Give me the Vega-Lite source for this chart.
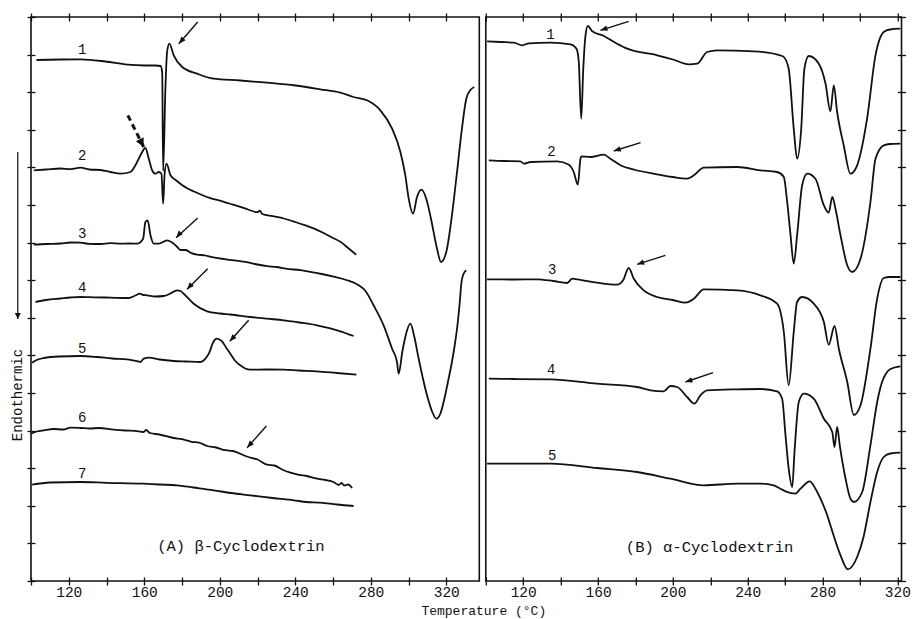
{
"$schema": "https://vega.github.io/schema/vega-lite/v6.json",
"background": "white",
"padding": {"left": 9, "top": 11, "right": 5, "bottom": 5},
"autosize": {"type": "pad"},
"spacing": 5.8,
"bounds": "flush",
"datasets": {
"c": [
{"p":"A","c":1,"T":102.9,"v":521},{"p":"A","c":1,"T":115.6,"v":521.5},{"p":"A","c":1,"T":126.2,"v":521.7},{"p":"A","c":1,"T":139.4,"v":519.5},{"p":"A","c":1,"T":151.1,"v":516.3},{"p":"A","c":1,"T":160.6,"v":515.5},{"p":"A","c":1,"T":165.9,"v":515.5},{"p":"A","c":1,"T":168.6,"v":515},{"p":"A","c":1,"T":169.5,"v":509},{"p":"A","c":1,"T":170.0,"v":410},{"p":"A","c":1,"T":171.2,"v":492.3},{"p":"A","c":1,"T":172.1,"v":529},{"p":"A","c":1,"T":173.3,"v":537.3},{"p":"A","c":1,"T":175.6,"v":525.7},{"p":"A","c":1,"T":180.1,"v":514},{"p":"A","c":1,"T":188,"v":507.3},{"p":"A","c":1,"T":196.6,"v":502.3},{"p":"A","c":1,"T":210.9,"v":500.5},{"p":"A","c":1,"T":225.1,"v":498.3},{"p":"A","c":1,"T":240.1,"v":495.5},{"p":"A","c":1,"T":253.3,"v":491.7},{"p":"A","c":1,"T":263.9,"v":488.3},{"p":"A","c":1,"T":270.8,"v":484},{"p":"A","c":1,"T":278,"v":480.7},{"p":"A","c":1,"T":285.1,"v":470.7},{"p":"A","c":1,"T":291.3,"v":452.3},{"p":"A","c":1,"T":295.7,"v":429},{"p":"A","c":1,"T":298.3,"v":405.7},{"p":"A","c":1,"T":300.1,"v":382.3},{"p":"A","c":1,"T":302.4,"v":367.3},{"p":"A","c":1,"T":304.5,"v":384},{"p":"A","c":1,"T":306.8,"v":391.3},{"p":"A","c":1,"T":309.4,"v":382.3},{"p":"A","c":1,"T":311.9,"v":362.3},{"p":"A","c":1,"T":315.1,"v":332.3},{"p":"A","c":1,"T":317.2,"v":319},{"p":"A","c":1,"T":320,"v":329},{"p":"A","c":1,"T":323,"v":365.7},{"p":"A","c":1,"T":325.7,"v":409},{"p":"A","c":1,"T":328.3,"v":452.3},{"p":"A","c":1,"T":330.6,"v":482.3},{"p":"A","c":1,"T":332.7,"v":490.7},{"p":"A","c":1,"T":334.8,"v":494},
{"p":"A","c":2,"T":101.5,"v":410.7},{"p":"A","c":2,"T":108,"v":411.5},{"p":"A","c":2,"T":115.6,"v":412.5},{"p":"A","c":2,"T":121,"v":411.8},{"p":"A","c":2,"T":126.2,"v":413.3},{"p":"A","c":2,"T":131,"v":411.5},{"p":"A","c":2,"T":136.8,"v":411},{"p":"A","c":2,"T":142.1,"v":409},{"p":"A","c":2,"T":147.4,"v":407.3},{"p":"A","c":2,"T":152.7,"v":409},{"p":"A","c":2,"T":155.3,"v":415.7},{"p":"A","c":2,"T":158,"v":425.7},{"p":"A","c":2,"T":160.6,"v":433},{"p":"A","c":2,"T":162.4,"v":422.3},{"p":"A","c":2,"T":164.2,"v":410.7},{"p":"A","c":2,"T":165.9,"v":407.3},{"p":"A","c":2,"T":167.7,"v":409},{"p":"A","c":2,"T":169.1,"v":407.3},{"p":"A","c":2,"T":170,"v":377.3},{"p":"A","c":2,"T":170.8,"v":407.3},{"p":"A","c":2,"T":171.8,"v":417.3},{"p":"A","c":2,"T":173.9,"v":405.7},{"p":"A","c":2,"T":177,"v":400.5},{"p":"A","c":2,"T":180,"v":396},{"p":"A","c":2,"T":182.7,"v":392.8},{"p":"A","c":2,"T":186,"v":389.8},{"p":"A","c":2,"T":190,"v":386.5},{"p":"A","c":2,"T":195,"v":382.8},{"p":"A","c":2,"T":200,"v":380.3},{"p":"A","c":2,"T":205,"v":377.5},{"p":"A","c":2,"T":210.9,"v":374.2},{"p":"A","c":2,"T":215,"v":371.5},{"p":"A","c":2,"T":219.8,"v":368.8},{"p":"A","c":2,"T":221.3,"v":370.3},{"p":"A","c":2,"T":222.5,"v":367},{"p":"A","c":2,"T":228,"v":364.8},{"p":"A","c":2,"T":233.9,"v":362.5},{"p":"A","c":2,"T":240,"v":359},{"p":"A","c":2,"T":245,"v":355.8},{"p":"A","c":2,"T":249.7,"v":352.6},{"p":"A","c":2,"T":255,"v":348},{"p":"A","c":2,"T":260,"v":343},{"p":"A","c":2,"T":263.9,"v":339.2},{"p":"A","c":2,"T":268,"v":333},{"p":"A","c":2,"T":272.3,"v":326.3},
{"p":"A","c":3,"T":101.5,"v":336.3},{"p":"A","c":3,"T":108,"v":337},{"p":"A","c":3,"T":115.6,"v":337.5},{"p":"A","c":3,"T":121,"v":338.5},{"p":"A","c":3,"T":126.2,"v":338.3},{"p":"A","c":3,"T":131,"v":337.2},{"p":"A","c":3,"T":136.8,"v":337},{"p":"A","c":3,"T":142,"v":337.8},{"p":"A","c":3,"T":147.4,"v":337.3},{"p":"A","c":3,"T":152,"v":337.5},{"p":"A","c":3,"T":156.2,"v":337.3},{"p":"A","c":3,"T":159.4,"v":342.3},{"p":"A","c":3,"T":160.6,"v":359},{"p":"A","c":3,"T":161.8,"v":360.7},{"p":"A","c":3,"T":163.3,"v":345.7},{"p":"A","c":3,"T":165,"v":337.3},{"p":"A","c":3,"T":167.7,"v":337.3},{"p":"A","c":3,"T":172.1,"v":340.7},{"p":"A","c":3,"T":175.6,"v":337.3},{"p":"A","c":3,"T":177.5,"v":334},{"p":"A","c":3,"T":179.2,"v":331},{"p":"A","c":3,"T":182,"v":331},{"p":"A","c":3,"T":185,"v":327.8},{"p":"A","c":3,"T":188,"v":326.3},{"p":"A","c":3,"T":192,"v":325.7},{"p":"A","c":3,"T":196,"v":323.8},{"p":"A","c":3,"T":200.3,"v":322.5},{"p":"A","c":3,"T":205,"v":321.2},{"p":"A","c":3,"T":210.9,"v":319.8},{"p":"A","c":3,"T":215,"v":318.6},{"p":"A","c":3,"T":220,"v":316.5},{"p":"A","c":3,"T":225.1,"v":314.8},{"p":"A","c":3,"T":230,"v":314},{"p":"A","c":3,"T":235,"v":312.3},{"p":"A","c":3,"T":242.8,"v":310.8},{"p":"A","c":3,"T":248,"v":309.2},{"p":"A","c":3,"T":254,"v":307},{"p":"A","c":3,"T":260.3,"v":304.3},{"p":"A","c":3,"T":267,"v":301},{"p":"A","c":3,"T":273.6,"v":295.7},{"p":"A","c":3,"T":277,"v":290.5},{"p":"A","c":3,"T":281.5,"v":275.7},{"p":"A","c":3,"T":286.8,"v":255.7},{"p":"A","c":3,"T":291.3,"v":232.3},{"p":"A","c":3,"T":293.9,"v":219},{"p":"A","c":3,"T":294.8,"v":207.3},{"p":"A","c":3,"T":296.7,"v":229},{"p":"A","c":3,"T":298.3,"v":244},{"p":"A","c":3,"T":301,"v":257.3},{"p":"A","c":3,"T":303.1,"v":244},{"p":"A","c":3,"T":305.2,"v":224},{"p":"A","c":3,"T":309.8,"v":185.7},{"p":"A","c":3,"T":312.6,"v":169},{"p":"A","c":3,"T":314.7,"v":162.3},{"p":"A","c":3,"T":316.8,"v":167},{"p":"A","c":3,"T":318.6,"v":179},{"p":"A","c":3,"T":321.1,"v":201},{"p":"A","c":3,"T":323,"v":219},{"p":"A","c":3,"T":324.5,"v":236},{"p":"A","c":3,"T":326,"v":257},{"p":"A","c":3,"T":327.2,"v":280},{"p":"A","c":3,"T":328,"v":298},{"p":"A","c":3,"T":329,"v":306.5},{"p":"A","c":3,"T":330.6,"v":310.7},
{"p":"A","c":4,"T":102.4,"v":279},{"p":"A","c":4,"T":108,"v":281},{"p":"A","c":4,"T":115.6,"v":282.5},{"p":"A","c":4,"T":121,"v":283.5},{"p":"A","c":4,"T":126.2,"v":284},{"p":"A","c":4,"T":131,"v":283.8},{"p":"A","c":4,"T":139.4,"v":283.5},{"p":"A","c":4,"T":145,"v":283.2},{"p":"A","c":4,"T":151.8,"v":283},{"p":"A","c":4,"T":155.3,"v":285.5},{"p":"A","c":4,"T":157.6,"v":287.3},{"p":"A","c":4,"T":159.6,"v":286},{"p":"A","c":4,"T":161.5,"v":285.7},{"p":"A","c":4,"T":165.9,"v":284.5},{"p":"A","c":4,"T":170.3,"v":285},{"p":"A","c":4,"T":173.9,"v":287.5},{"p":"A","c":4,"T":177.4,"v":290.7},{"p":"A","c":4,"T":179.2,"v":290},{"p":"A","c":4,"T":180.9,"v":287.3},{"p":"A","c":4,"T":186.2,"v":277.3},{"p":"A","c":4,"T":193.3,"v":269.7},{"p":"A","c":4,"T":200,"v":267.5},{"p":"A","c":4,"T":205.6,"v":266.5},{"p":"A","c":4,"T":216.2,"v":264},{"p":"A","c":4,"T":225,"v":262.3},{"p":"A","c":4,"T":233.9,"v":260.7},{"p":"A","c":4,"T":242,"v":258.5},{"p":"A","c":4,"T":251.5,"v":255.7},{"p":"A","c":4,"T":258,"v":252.8},{"p":"A","c":4,"T":263.9,"v":249.7},{"p":"A","c":4,"T":270.9,"v":245},
{"p":"A","c":5,"T":100.6,"v":218.3},{"p":"A","c":5,"T":103,"v":221},{"p":"A","c":5,"T":106.8,"v":223},{"p":"A","c":5,"T":115,"v":224.5},{"p":"A","c":5,"T":126.2,"v":225},{"p":"A","c":5,"T":135,"v":224},{"p":"A","c":5,"T":143,"v":222.5},{"p":"A","c":5,"T":150.9,"v":221.7},{"p":"A","c":5,"T":156.9,"v":219.5},{"p":"A","c":5,"T":158,"v":219},{"p":"A","c":5,"T":159.7,"v":222.3},{"p":"A","c":5,"T":162.4,"v":223.3},{"p":"A","c":5,"T":168,"v":221.5},{"p":"A","c":5,"T":175.6,"v":220},{"p":"A","c":5,"T":182,"v":219.5},{"p":"A","c":5,"T":189.8,"v":219},{"p":"A","c":5,"T":192,"v":221.5},{"p":"A","c":5,"T":194.2,"v":227.3},{"p":"A","c":5,"T":196.6,"v":239},{"p":"A","c":5,"T":198.2,"v":242.3},{"p":"A","c":5,"T":199.8,"v":241.5},{"p":"A","c":5,"T":201.2,"v":239.7},{"p":"A","c":5,"T":203.5,"v":233},{"p":"A","c":5,"T":205.6,"v":227.3},{"p":"A","c":5,"T":208,"v":220.5},{"p":"A","c":5,"T":210.9,"v":215.7},{"p":"A","c":5,"T":213.5,"v":212.5},{"p":"A","c":5,"T":216.2,"v":211.3},{"p":"A","c":5,"T":225,"v":211.5},{"p":"A","c":5,"T":233.9,"v":211.3},{"p":"A","c":5,"T":242,"v":210.5},{"p":"A","c":5,"T":251.5,"v":209.7},{"p":"A","c":5,"T":262,"v":208},{"p":"A","c":5,"T":272.4,"v":206.3},
{"p":"A","c":6,"T":100.1,"v":147.3},{"p":"A","c":6,"T":103,"v":149.5},{"p":"A","c":6,"T":106.8,"v":150.7},{"p":"A","c":6,"T":112,"v":152},{"p":"A","c":6,"T":117,"v":151.5},{"p":"A","c":6,"T":121,"v":153.3},{"p":"A","c":6,"T":126.2,"v":153},{"p":"A","c":6,"T":131,"v":152.5},{"p":"A","c":6,"T":136,"v":153},{"p":"A","c":6,"T":143.8,"v":151.3},{"p":"A","c":6,"T":150,"v":150.5},{"p":"A","c":6,"T":155,"v":150.2},{"p":"A","c":6,"T":159.7,"v":149},{"p":"A","c":6,"T":161,"v":151},{"p":"A","c":6,"T":163,"v":148},{"p":"A","c":6,"T":168,"v":146.5},{"p":"A","c":6,"T":175.6,"v":143},{"p":"A","c":6,"T":180,"v":141.8},{"p":"A","c":6,"T":185,"v":139.2},{"p":"A","c":6,"T":189,"v":138.4},{"p":"A","c":6,"T":193.3,"v":135},{"p":"A","c":6,"T":198,"v":133.5},{"p":"A","c":6,"T":203,"v":130.8},{"p":"A","c":6,"T":207,"v":130},{"p":"A","c":6,"T":212.7,"v":125.7},{"p":"A","c":6,"T":216,"v":123.5},{"p":"A","c":6,"T":220,"v":121.5},{"p":"A","c":6,"T":225.1,"v":116.3},{"p":"A","c":6,"T":229,"v":115.5},{"p":"A","c":6,"T":233,"v":111.5},{"p":"A","c":6,"T":237.4,"v":108.3},{"p":"A","c":6,"T":242,"v":106.2},{"p":"A","c":6,"T":246,"v":105},{"p":"A","c":6,"T":251.5,"v":102.3},{"p":"A","c":6,"T":256,"v":101},{"p":"A","c":6,"T":260.3,"v":99},{"p":"A","c":6,"T":263,"v":96},{"p":"A","c":6,"T":264.5,"v":98},{"p":"A","c":6,"T":266,"v":95.5},{"p":"A","c":6,"T":268,"v":96.5},{"p":"A","c":6,"T":270.1,"v":93},
{"p":"A","c":7,"T":100.6,"v":96.3},{"p":"A","c":7,"T":110,"v":98.5},{"p":"A","c":7,"T":126.2,"v":99},{"p":"A","c":7,"T":140,"v":98.2},{"p":"A","c":7,"T":159.7,"v":97.3},{"p":"A","c":7,"T":168,"v":96.5},{"p":"A","c":7,"T":177.4,"v":95.7},{"p":"A","c":7,"T":186,"v":93.5},{"p":"A","c":7,"T":196.8,"v":90.7},{"p":"A","c":7,"T":206,"v":88},{"p":"A","c":7,"T":216.2,"v":85.7},{"p":"A","c":7,"T":228,"v":83},{"p":"A","c":7,"T":239.2,"v":80.7},{"p":"A","c":7,"T":246,"v":79},{"p":"A","c":7,"T":253.3,"v":78.3},{"p":"A","c":7,"T":262,"v":76.5},{"p":"A","c":7,"T":270.9,"v":75},
{"p":"B","c":1,"T":100.7,"v":539.7},{"p":"B","c":1,"T":108,"v":539},{"p":"B","c":1,"T":115,"v":538.3},{"p":"B","c":1,"T":119.5,"v":535.7},{"p":"B","c":1,"T":123,"v":537.7},{"p":"B","c":1,"T":134.6,"v":538.3},{"p":"B","c":1,"T":145.3,"v":536.7},{"p":"B","c":1,"T":148.5,"v":532.3},{"p":"B","c":1,"T":149.7,"v":519},{"p":"B","c":1,"T":151,"v":462.3},{"p":"B","c":1,"T":152.1,"v":512.3},{"p":"B","c":1,"T":153.3,"v":545.7},{"p":"B","c":1,"T":154.5,"v":555},{"p":"B","c":1,"T":156.9,"v":549.7},{"p":"B","c":1,"T":163.1,"v":545},{"p":"B","c":1,"T":170.2,"v":537.3},{"p":"B","c":1,"T":175.6,"v":532.3},{"p":"B","c":1,"T":191.6,"v":525.7},{"p":"B","c":1,"T":200,"v":521.5},{"p":"B","c":1,"T":208.5,"v":516.7},{"p":"B","c":1,"T":213,"v":517.3},{"p":"B","c":1,"T":218.3,"v":529},{"p":"B","c":1,"T":223.7,"v":530.7},{"p":"B","c":1,"T":243.2,"v":529.7},{"p":"B","c":1,"T":258.4,"v":525},{"p":"B","c":1,"T":259.3,"v":524},{"p":"B","c":1,"T":261.9,"v":512.3},{"p":"B","c":1,"T":264.6,"v":452.3},{"p":"B","c":1,"T":266.4,"v":422.3},{"p":"B","c":1,"T":268.6,"v":452.3},{"p":"B","c":1,"T":270.3,"v":512.3},{"p":"B","c":1,"T":272.6,"v":525},{"p":"B","c":1,"T":278,"v":517.3},{"p":"B","c":1,"T":281.6,"v":497.3},{"p":"B","c":1,"T":284.2,"v":469.7},{"p":"B","c":1,"T":286,"v":495.7},{"p":"B","c":1,"T":287.8,"v":469},{"p":"B","c":1,"T":291.3,"v":435.7},{"p":"B","c":1,"T":294.9,"v":407.3},{"p":"B","c":1,"T":298.5,"v":415.7},{"p":"B","c":1,"T":303.8,"v":462.3},{"p":"B","c":1,"T":308.3,"v":525.7},{"p":"B","c":1,"T":312.7,"v":549},{"p":"B","c":1,"T":316,"v":551.5},{"p":"B","c":1,"T":321.6,"v":552.3},
{"p":"B","c":2,"T":101.6,"v":420.7},{"p":"B","c":2,"T":110,"v":420},{"p":"B","c":2,"T":118.5,"v":419.7},{"p":"B","c":2,"T":120.3,"v":417.3},{"p":"B","c":2,"T":123.9,"v":419},{"p":"B","c":2,"T":138.2,"v":419.7},{"p":"B","c":2,"T":144.4,"v":416.3},{"p":"B","c":2,"T":147,"v":409},{"p":"B","c":2,"T":149.2,"v":396.3},{"p":"B","c":2,"T":150.6,"v":422.3},{"p":"B","c":2,"T":151.1,"v":424.7},{"p":"B","c":2,"T":155.9,"v":424},{"p":"B","c":2,"T":163.1,"v":426.3},{"p":"B","c":2,"T":166.6,"v":422.3},{"p":"B","c":2,"T":172,"v":415.7},{"p":"B","c":2,"T":180,"v":411},{"p":"B","c":2,"T":189.8,"v":407.3},{"p":"B","c":2,"T":200,"v":404},{"p":"B","c":2,"T":207.6,"v":402.3},{"p":"B","c":2,"T":211.2,"v":405.7},{"p":"B","c":2,"T":216.5,"v":413.3},{"p":"B","c":2,"T":234.4,"v":414},{"p":"B","c":2,"T":246.8,"v":410.7},{"p":"B","c":2,"T":255.7,"v":409},{"p":"B","c":2,"T":259.3,"v":404},{"p":"B","c":2,"T":261.1,"v":379},{"p":"B","c":2,"T":262.9,"v":345.7},{"p":"B","c":2,"T":264.6,"v":317.3},{"p":"B","c":2,"T":266.4,"v":345.7},{"p":"B","c":2,"T":269.1,"v":395.7},{"p":"B","c":2,"T":271.8,"v":407.3},{"p":"B","c":2,"T":276.2,"v":402.3},{"p":"B","c":2,"T":280.7,"v":375.7},{"p":"B","c":2,"T":283.3,"v":368.3},{"p":"B","c":2,"T":285.2,"v":384},{"p":"B","c":2,"T":286.9,"v":372.3},{"p":"B","c":2,"T":289.6,"v":345.7},{"p":"B","c":2,"T":293.2,"v":315.7},{"p":"B","c":2,"T":295.8,"v":309},{"p":"B","c":2,"T":300.3,"v":322.3},{"p":"B","c":2,"T":305.6,"v":379},{"p":"B","c":2,"T":308.3,"v":422.3},{"p":"B","c":2,"T":312.7,"v":435.7},{"p":"B","c":2,"T":316,"v":437},{"p":"B","c":2,"T":321.6,"v":437.3},
{"p":"B","c":3,"T":100.7,"v":301.7},{"p":"B","c":3,"T":115,"v":301.5},{"p":"B","c":3,"T":127.5,"v":301.7},{"p":"B","c":3,"T":136,"v":300},{"p":"B","c":3,"T":143.5,"v":298},{"p":"B","c":3,"T":146.2,"v":302.3},{"p":"B","c":3,"T":148.9,"v":301.7},{"p":"B","c":3,"T":159.5,"v":298.3},{"p":"B","c":3,"T":170.2,"v":296.3},{"p":"B","c":3,"T":173.4,"v":300.7},{"p":"B","c":3,"T":176.4,"v":313},{"p":"B","c":3,"T":179.1,"v":302.3},{"p":"B","c":3,"T":184.4,"v":290.7},{"p":"B","c":3,"T":191.6,"v":284},{"p":"B","c":3,"T":200,"v":281},{"p":"B","c":3,"T":206.7,"v":278.3},{"p":"B","c":3,"T":211.2,"v":282.3},{"p":"B","c":3,"T":216.5,"v":291.7},{"p":"B","c":3,"T":234.4,"v":290.7},{"p":"B","c":3,"T":246.8,"v":285.7},{"p":"B","c":3,"T":255.7,"v":277.3},{"p":"B","c":3,"T":259.3,"v":249},{"p":"B","c":3,"T":261.9,"v":195.7},{"p":"B","c":3,"T":264.6,"v":249},{"p":"B","c":3,"T":266.4,"v":279},{"p":"B","c":3,"T":269.1,"v":284},{"p":"B","c":3,"T":275.3,"v":277.3},{"p":"B","c":3,"T":280.7,"v":259},{"p":"B","c":3,"T":283.3,"v":236.3},{"p":"B","c":3,"T":286.4,"v":255},{"p":"B","c":3,"T":288.7,"v":232.3},{"p":"B","c":3,"T":293.2,"v":199},{"p":"B","c":3,"T":296.7,"v":166},{"p":"B","c":3,"T":300.3,"v":175.7},{"p":"B","c":3,"T":305.6,"v":232.3},{"p":"B","c":3,"T":309.2,"v":282.3},{"p":"B","c":3,"T":312.7,"v":303},{"p":"B","c":3,"T":316,"v":304},{"p":"B","c":3,"T":321.6,"v":304},
{"p":"B","c":4,"T":101.6,"v":202.3},{"p":"B","c":4,"T":115,"v":202},{"p":"B","c":4,"T":134.6,"v":201.7},{"p":"B","c":4,"T":159.5,"v":197.3},{"p":"B","c":4,"T":180.9,"v":194},{"p":"B","c":4,"T":188,"v":190.7},{"p":"B","c":4,"T":195.1,"v":189.7},{"p":"B","c":4,"T":198.7,"v":195},{"p":"B","c":4,"T":202.3,"v":194},{"p":"B","c":4,"T":207.6,"v":184},{"p":"B","c":4,"T":211.5,"v":177.3},{"p":"B","c":4,"T":214.7,"v":185.7},{"p":"B","c":4,"T":218.3,"v":190.7},{"p":"B","c":4,"T":234.4,"v":191.7},{"p":"B","c":4,"T":246.8,"v":192},{"p":"B","c":4,"T":255.7,"v":189.7},{"p":"B","c":4,"T":258.4,"v":182.3},{"p":"B","c":4,"T":260.2,"v":145.7},{"p":"B","c":4,"T":261.9,"v":112.3},{"p":"B","c":4,"T":263.8,"v":94},{"p":"B","c":4,"T":265,"v":129},{"p":"B","c":4,"T":267.3,"v":179},{"p":"B","c":4,"T":270,"v":187.3},{"p":"B","c":4,"T":275.3,"v":182.3},{"p":"B","c":4,"T":280.7,"v":162.3},{"p":"B","c":4,"T":285.2,"v":149},{"p":"B","c":4,"T":286.4,"v":134},{"p":"B","c":4,"T":287.8,"v":154},{"p":"B","c":4,"T":289.2,"v":135.7},{"p":"B","c":4,"T":292.3,"v":102.3},{"p":"B","c":4,"T":294.9,"v":82.3},{"p":"B","c":4,"T":296.7,"v":79},{"p":"B","c":4,"T":301.2,"v":89},{"p":"B","c":4,"T":305.6,"v":135.7},{"p":"B","c":4,"T":309.2,"v":179},{"p":"B","c":4,"T":311,"v":194},{"p":"B","c":4,"T":314.5,"v":209},{"p":"B","c":4,"T":316.3,"v":212},{"p":"B","c":4,"T":321.6,"v":214.7},
{"p":"B","c":5,"T":100.7,"v":117.3},{"p":"B","c":5,"T":115,"v":117.3},{"p":"B","c":5,"T":134.6,"v":117.3},{"p":"B","c":5,"T":159.5,"v":113},{"p":"B","c":5,"T":180.9,"v":109},{"p":"B","c":5,"T":198.7,"v":102.3},{"p":"B","c":5,"T":216.5,"v":95.7},{"p":"B","c":5,"T":234.4,"v":97.3},{"p":"B","c":5,"T":246.8,"v":97.3},{"p":"B","c":5,"T":253.9,"v":95.7},{"p":"B","c":5,"T":257.5,"v":92.3},{"p":"B","c":5,"T":260.2,"v":89.7},{"p":"B","c":5,"T":265.6,"v":87.3},{"p":"B","c":5,"T":268.2,"v":92.3},{"p":"B","c":5,"T":273.2,"v":99.7},{"p":"B","c":5,"T":276.2,"v":92.3},{"p":"B","c":5,"T":278.9,"v":82.3},{"p":"B","c":5,"T":282.5,"v":65.7},{"p":"B","c":5,"T":284.2,"v":55.7},{"p":"B","c":5,"T":289.6,"v":25.7},{"p":"B","c":5,"T":293.5,"v":11.7},{"p":"B","c":5,"T":298.5,"v":24},{"p":"B","c":5,"T":301.9,"v":44},{"p":"B","c":5,"T":305.6,"v":79},{"p":"B","c":5,"T":309.2,"v":109},{"p":"B","c":5,"T":312.7,"v":124},{"p":"B","c":5,"T":316.3,"v":127.5},{"p":"B","c":5,"T":321.6,"v":128.3}
],
"a": [
{"p":"A","k":"solid","T":188.3,"v":559,"T2":178.3,"v2":537.3},
{"p":"A","k":"solid","T":188.3,"v":363,"T2":176.9,"v2":343.3},
{"p":"A","k":"solid","T":193.6,"v":312.3,"T2":182.7,"v2":291.7},
{"p":"A","k":"solid","T":215.3,"v":260.7,"T2":205.3,"v2":239.7},
{"p":"A","k":"solid","T":224.7,"v":155,"T2":214.5,"v2":133.3},
{"p":"A","k":"dash","T":151.3,"v":465.7,"T2":159.7,"v2":434},
{"p":"A","k":"endo","T":93,"v":429,"T2":93,"v2":262},
{"p":"B","k":"solid","T":176.4,"v":559.7,"T2":161.3,"v2":550.7},
{"p":"B","k":"solid","T":182.7,"v":438.3,"T2":168.4,"v2":430},
{"p":"B","k":"solid","T":196,"v":325.7,"T2":180.9,"v2":316.7},
{"p":"B","k":"solid","T":221.5,"v":208.3,"T2":206.7,"v2":199}
],
"t": [
{"p":"A","k":"num","t":"1","T":127.1,"v":530.7},{"p":"A","k":"num","t":"2","T":127.1,"v":425},{"p":"A","k":"num","t":"3","T":127.1,"v":347.3},{"p":"A","k":"num","t":"4","T":127.1,"v":293},{"p":"A","k":"num","t":"5","T":127.1,"v":232.3},{"p":"A","k":"num","t":"6","T":127.1,"v":163},{"p":"A","k":"num","t":"7","T":127.1,"v":107.3},
{"p":"B","k":"num","t":"1","T":134.6,"v":545.7},{"p":"B","k":"num","t":"2","T":135.1,"v":429},{"p":"B","k":"num","t":"3","T":135.5,"v":310.7},{"p":"B","k":"num","t":"4","T":135,"v":210.7},{"p":"B","k":"num","t":"5","T":135.5,"v":125},
{"p":"A","k":"title","t":"(A) β-Cyclodextrin","T":211.2,"v":35},
{"p":"B","k":"title","t":"(B) α-Cyclodextrin","T":219.6,"v":34}
]
},
"config": {
"view": {"stroke": "#111", "strokeWidth": 1.6},
"axis": {"domain": false, "grid": false, "tickColor": "#111", "tickWidth": 1.3, "labelFont": "Liberation Mono", "labelFontSize": 14.5, "labelColor": "#111", "titleFont": "Liberation Mono", "titleFontSize": 13, "titleFontWeight": "normal", "titleColor": "#111"},
"text": {"font": "Liberation Mono", "color": "#111"}
},
"hconcat": [
{
"width": 448.3, "height": 564,
"resolve": {"axis": {"x": "independent", "y": "independent"}},
"layer": [
{"data": {"name": "c"}, "transform": [{"filter": "datum.p == 'A'"}],
 "mark": {"type": "line", "interpolate": "monotone", "strokeWidth": 1.8, "color": "#111"},
 "encoding": {
  "x": {"field": "T", "type": "quantitative", "scale": {"domain": [100, 337.5], "nice": false, "zero": false},
        "axis": {"orient": "bottom", "values": [100,120,140,160,180,200,220,240,260,280,300,320], "tickSize": 4, "labelExpr": "datum.value % 40 == 0 ? datum.label : ''", "labelPadding": 0, "title": "Temperature (°C)", "titleX": 452.3, "titleY": 33, "titleAlign": "center", "titleBaseline": "alphabetic", "titleAnchor": null}},
  "y": {"field": "v", "type": "quantitative", "scale": {"domain": [0, 564], "nice": false, "zero": false},
        "axis": {"orient": "left", "values": [0,37.6,75.2,112.8,150.4,188,225.6,263.2,300.8,338.4,376,413.6,451.2,488.8,526.4,564], "tickSize": 4, "labels": false, "title": "Endothermic", "titleX": -13.5, "titleY": 377.5, "titleAngle": 270, "titleAlign": "center", "titleBaseline": "middle", "titleFontSize": 14}},
  "detail": {"field": "c"}
 }},
{"data": {"name": "t"}, "transform": [{"filter": "datum.p == 'A' && datum.k == 'num'"}],
 "mark": {"type": "text", "fontSize": 14, "baseline": "middle", "align": "center"},
 "encoding": {
  "x": {"field": "T", "type": "quantitative", "scale": {"domain": [100, 337.5], "nice": false, "zero": false},
        "axis": {"orient": "top", "values": [100,120,140,160,180,200,220,240,260,280,300,320], "tickSize": 4, "labels": false, "title": null}},
  "y": {"field": "v", "type": "quantitative", "scale": {"domain": [0, 564], "nice": false, "zero": false},
        "axis": {"orient": "left", "values": [0,37.6,75.2,112.8,150.4,188,225.6,263.2,300.8,338.4,376,413.6,451.2,488.8,526.4,564], "tickSize": -4, "labels": false, "title": null}},
  "text": {"field": "t"}
 }},
{"data": {"name": "a"}, "transform": [{"filter": "datum.p == 'A' && datum.k == 'solid'"}],
 "mark": {"type": "rule", "strokeWidth": 1.4, "color": "#111"},
 "encoding": {
  "x": {"field": "T", "type": "quantitative", "scale": {"domain": [100, 337.5], "nice": false, "zero": false},
        "axis": {"orient": "bottom", "values": [100,120,140,160,180,200,220,240,260,280,300,320], "tickSize": -4, "labels": false, "title": null}},
  "y": {"field": "v", "type": "quantitative", "scale": {"domain": [0, 564], "nice": false, "zero": false}, "axis": null},
  "x2": {"field": "T2"}, "y2": {"field": "v2"}
 }},
{"data": {"name": "a"}, "transform": [{"filter": "datum.p == 'A' && datum.k == 'solid'"}],
 "mark": {"type": "point", "shape": "M0,0L0.4,1L-0.4,1Z", "filled": true, "size": 196, "angle": 222, "color": "#111", "opacity": 1},
 "encoding": {
  "x": {"field": "T2", "type": "quantitative", "scale": {"domain": [100, 337.5], "nice": false, "zero": false},
        "axis": {"orient": "top", "values": [100,120,140,160,180,200,220,240,260,280,300,320], "tickSize": -4, "labels": false, "title": null}},
  "y": {"field": "v2", "type": "quantitative", "scale": {"domain": [0, 564], "nice": false, "zero": false}, "axis": null}
 }},
{"data": {"name": "a"}, "transform": [{"filter": "datum.p == 'A' && datum.k == 'dash'"}],
 "mark": {"type": "rule", "strokeWidth": 3, "strokeDash": [6, 4], "color": "#111"},
 "encoding": {
  "x": {"field": "T", "type": "quantitative", "scale": {"domain": [100, 337.5], "nice": false, "zero": false}, "axis": null},
  "y": {"field": "v", "type": "quantitative", "scale": {"domain": [0, 564], "nice": false, "zero": false}, "axis": null},
  "x2": {"field": "T2"}, "y2": {"field": "v2"}
 }},
{"data": {"name": "a"}, "transform": [{"filter": "datum.p == 'A' && datum.k == 'dash'"}],
 "mark": {"type": "point", "shape": "M0,0L0.5,1L-0.5,1Z", "filled": true, "size": 300, "angle": 153, "color": "#111", "opacity": 1},
 "encoding": {
  "x": {"field": "T2", "type": "quantitative", "scale": {"domain": [100, 337.5], "nice": false, "zero": false}, "axis": null},
  "y": {"field": "v2", "type": "quantitative", "scale": {"domain": [0, 564], "nice": false, "zero": false}, "axis": null}
 }},
{"data": {"name": "a"}, "transform": [{"filter": "datum.k == 'endo'"}],
 "mark": {"type": "rule", "strokeWidth": 1.2, "color": "#111"},
 "encoding": {
  "x": {"field": "T", "type": "quantitative", "scale": {"domain": [100, 337.5], "nice": false, "zero": false}, "axis": null},
  "y": {"field": "v", "type": "quantitative", "scale": {"domain": [0, 564], "nice": false, "zero": false}, "axis": null},
  "x2": {"field": "T2"}, "y2": {"field": "v2"}
 }},
{"data": {"name": "a"}, "transform": [{"filter": "datum.k == 'endo'"}],
 "mark": {"type": "point", "shape": "M0,0L0.5,1L-0.5,1Z", "filled": true, "size": 144, "angle": 180, "color": "#111", "opacity": 1},
 "encoding": {
  "x": {"field": "T2", "type": "quantitative", "scale": {"domain": [100, 337.5], "nice": false, "zero": false}, "axis": null},
  "y": {"field": "v2", "type": "quantitative", "scale": {"domain": [0, 564], "nice": false, "zero": false}, "axis": null}
 }},
{"data": {"name": "t"}, "transform": [{"filter": "datum.p == 'A' && datum.k == 'title'"}],
 "mark": {"type": "text", "fontSize": 15.5, "baseline": "middle", "align": "center"},
 "encoding": {
  "x": {"field": "T", "type": "quantitative", "scale": {"domain": [100, 337.5], "nice": false, "zero": false}, "axis": null},
  "y": {"field": "v", "type": "quantitative", "scale": {"domain": [0, 564], "nice": false, "zero": false}, "axis": null},
  "text": {"field": "t"}
 }}
]
},
{
"width": 415.7, "height": 564,
"resolve": {"axis": {"x": "independent", "y": "independent"}},
"layer": [
{"data": {"name": "c"}, "transform": [{"filter": "datum.p == 'B'"}],
 "mark": {"type": "line", "interpolate": "monotone", "strokeWidth": 1.8, "color": "#111"},
 "encoding": {
  "x": {"field": "T", "type": "quantitative", "scale": {"domain": [100, 322.2], "nice": false, "zero": false},
        "axis": {"orient": "bottom", "values": [100,120,140,160,180,200,220,240,260,280,300,320], "tickSize": 4, "labelExpr": "datum.value % 40 == 0 ? datum.label : ''", "labelPadding": 0, "title": null}},
  "y": {"field": "v", "type": "quantitative", "scale": {"domain": [0, 564], "nice": false, "zero": false},
        "axis": {"orient": "right", "values": [0,37.6,75.2,112.8,150.4,188,225.6,263.2,300.8,338.4,376,413.6,451.2,488.8,526.4,564], "tickSize": 4, "labels": false, "title": null}},
  "detail": {"field": "c"}
 }},
{"data": {"name": "t"}, "transform": [{"filter": "datum.p == 'B' && datum.k == 'num'"}],
 "mark": {"type": "text", "fontSize": 14, "baseline": "middle", "align": "center"},
 "encoding": {
  "x": {"field": "T", "type": "quantitative", "scale": {"domain": [100, 322.2], "nice": false, "zero": false},
        "axis": {"orient": "top", "values": [100,120,140,160,180,200,220,240,260,280,300,320], "tickSize": 4, "labels": false, "title": null}},
  "y": {"field": "v", "type": "quantitative", "scale": {"domain": [0, 564], "nice": false, "zero": false},
        "axis": {"orient": "right", "values": [0,37.6,75.2,112.8,150.4,188,225.6,263.2,300.8,338.4,376,413.6,451.2,488.8,526.4,564], "tickSize": -4, "labels": false, "title": null}},
  "text": {"field": "t"}
 }},
{"data": {"name": "a"}, "transform": [{"filter": "datum.p == 'B' && datum.k == 'solid'"}],
 "mark": {"type": "rule", "strokeWidth": 1.4, "color": "#111"},
 "encoding": {
  "x": {"field": "T", "type": "quantitative", "scale": {"domain": [100, 322.2], "nice": false, "zero": false},
        "axis": {"orient": "bottom", "values": [100,120,140,160,180,200,220,240,260,280,300,320], "tickSize": -4, "labels": false, "title": null}},
  "y": {"field": "v", "type": "quantitative", "scale": {"domain": [0, 564], "nice": false, "zero": false}, "axis": null},
  "x2": {"field": "T2"}, "y2": {"field": "v2"}
 }},
{"data": {"name": "a"}, "transform": [{"filter": "datum.p == 'B' && datum.k == 'solid'"}],
 "mark": {"type": "point", "shape": "M0,0L0.4,1L-0.4,1Z", "filled": true, "size": 196, "angle": 252, "color": "#111", "opacity": 1},
 "encoding": {
  "x": {"field": "T2", "type": "quantitative", "scale": {"domain": [100, 322.2], "nice": false, "zero": false},
        "axis": {"orient": "top", "values": [100,120,140,160,180,200,220,240,260,280,300,320], "tickSize": -4, "labels": false, "title": null}},
  "y": {"field": "v2", "type": "quantitative", "scale": {"domain": [0, 564], "nice": false, "zero": false}, "axis": null}
 }},
{"data": {"name": "t"}, "transform": [{"filter": "datum.p == 'B' && datum.k == 'title'"}],
 "mark": {"type": "text", "fontSize": 15.5, "baseline": "middle", "align": "center"},
 "encoding": {
  "x": {"field": "T", "type": "quantitative", "scale": {"domain": [100, 322.2], "nice": false, "zero": false}, "axis": null},
  "y": {"field": "v", "type": "quantitative", "scale": {"domain": [0, 564], "nice": false, "zero": false}, "axis": null},
  "text": {"field": "t"}
 }}
]
}
]
}
